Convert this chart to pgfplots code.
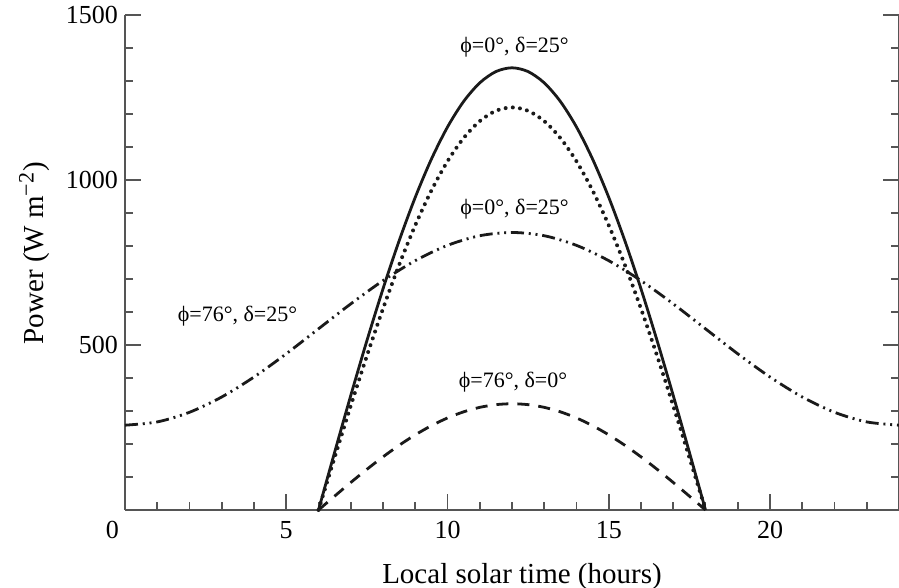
\documentclass[border=0pt]{standalone}
\usepackage{pgfplots}
\pgfplotsset{compat=1.18}
\usepackage{fontspec}
\setmainfont{Liberation Serif}
\definecolor{axisgray}{HTML}{555555}
\definecolor{curve}{HTML}{1A1A1A}
\begin{document}
\begin{tikzpicture}
\begin{axis}[
 width=387pt, height=247.5pt, scale only axis,
 xmin=0, xmax=24, ymin=0, ymax=1500,
 axis x line*=bottom, axis y line*=box,
 xtick pos=left, ytick pos=both, yticklabel pos=left,
 axis line style={-, draw=axisgray, line width=0.9pt},
 every tick/.style={axisgray, line width=0.9pt},
 tick align=inside,
 major tick length=8pt, minor tick length=4pt,
 xtick={0,5,10,15,20},
 minor xtick={1,2,3,4,6,7,8,9,11,12,13,14,16,17,18,19,21,22,23},
 xticklabels={\makebox[0pt][r]{0\hspace{3pt}},5,10,15,20},
 ytick={500,1000,1500},
 minor ytick={100,200,300,400,600,700,800,900,1100,1200,1300,1400},
 /pgf/number format/assume math mode=true,
 /pgf/number format/1000 sep={},
 tick label style={font=\fontsize{13}{15}\selectfont},
 xticklabel style={yshift=-2pt},
 xlabel={Local solar time (hours)},
 ylabel={Power (W m\textsuperscript{\fontsize{11}{13}\selectfont −2})},
 every axis x label/.style={at={(axis description cs:0.5,0)}, anchor=base, yshift=-37pt, xshift=5pt, font=\fontsize{14.5}{17}\selectfont},
 every axis y label/.style={at={(axis description cs:-0.1047,0.519)}, anchor=base, rotate=90, font=\fontsize{14.5}{17}\selectfont},
 clip=false,
]
\coordinate (O) at (rel axis cs:0,0);
\coordinate (TR) at (rel axis cs:1,1);
% phi=76, delta=25 (dash-dot-dot)
\addplot[curve, line width=1.4pt, smooth, dash pattern=on 6.5pt off 2.4pt on 1pt off 2.4pt on 1pt off 2.4pt] coordinates {
(0,257)(1,266.9)(2,296.1)(3,342.5)(4,403)(5,473.4)(6,549)(7,624.6)(8,695)(9,755.5)(10,801.9)(11,831.1)(12,841)
(13,831.1)(14,801.9)(15,755.5)(16,695)(17,624.6)(18,549)(19,473.4)(20,403)(21,342.5)(22,296.1)(23,266.9)(24,257)};
% phi=0, delta=25 (solid)
\addplot[curve, line width=1.4pt, smooth] coordinates {
(6,0)(6.5,174.9)(7,346.8)(7.5,512.8)(8,670)(8.5,815.7)(9,947.5)(9.5,1063.1)(10,1160.5)(10.5,1238.0)(11,1294.3)(11.5,1328.5)(12,1340)
(12.5,1328.5)(13,1294.3)(13.5,1238.0)(14,1160.5)(14.5,1063.1)(15,947.5)(15.5,815.7)(16,670)(16.5,512.8)(17,346.8)(17.5,174.9)(18,0)};
% dotted
\addplot[curve, line width=2pt, smooth, line cap=round, dash pattern=on 0pt off 3.6pt] coordinates {
(6,0)(6.5,159.2)(7,315.8)(7.5,466.9)(8,610)(8.5,742.7)(9,862.7)(9.5,967.9)(10,1056.6)(10.5,1127.1)(11,1178.4)(11.5,1209.6)(12,1220)
(12.5,1209.6)(13,1178.4)(13.5,1127.1)(14,1056.6)(14.5,967.9)(15,862.7)(15.5,742.7)(16,610)(16.5,466.9)(17,315.8)(17.5,159.2)(18,0)};
% phi=76, delta=0 (dashed)
\addplot[curve, line width=1.4pt, smooth, dash pattern=on 6pt off 4.5pt] coordinates {
(6,0)(6.5,42.0)(7,83.3)(7.5,123.2)(8,161)(8.5,196.0)(9,227.7)(9.5,255.5)(10,278.9)(10.5,297.5)(11,311.0)(11.5,319.2)(12,322)
(12.5,319.2)(13,311.0)(13.5,297.5)(14,278.9)(14.5,255.5)(15,227.7)(15.5,196.0)(16,161)(16.5,123.2)(17,83.3)(17.5,42.0)(18,0)};
\node[font=\fontsize{11}{13}\selectfont] at (axis cs:12.08,1404) {ϕ=0°, δ=25°};
\node[font=\fontsize{11}{13}\selectfont] at (axis cs:12.08,912) {ϕ=0°, δ=25°};
\node[font=\fontsize{11}{13}\selectfont] at (axis cs:3.49,586) {ϕ=76°, δ=25°};
\node[font=\fontsize{11}{13}\selectfont] at (axis cs:12.03,388) {ϕ=76°, δ=0°};
\end{axis}
\pgfresetboundingbox
\path ([shift={(-62.5pt,-39pt)}]O) rectangle ([shift={(0pt,7.5pt)}]TR);
\end{tikzpicture}
\end{document}
